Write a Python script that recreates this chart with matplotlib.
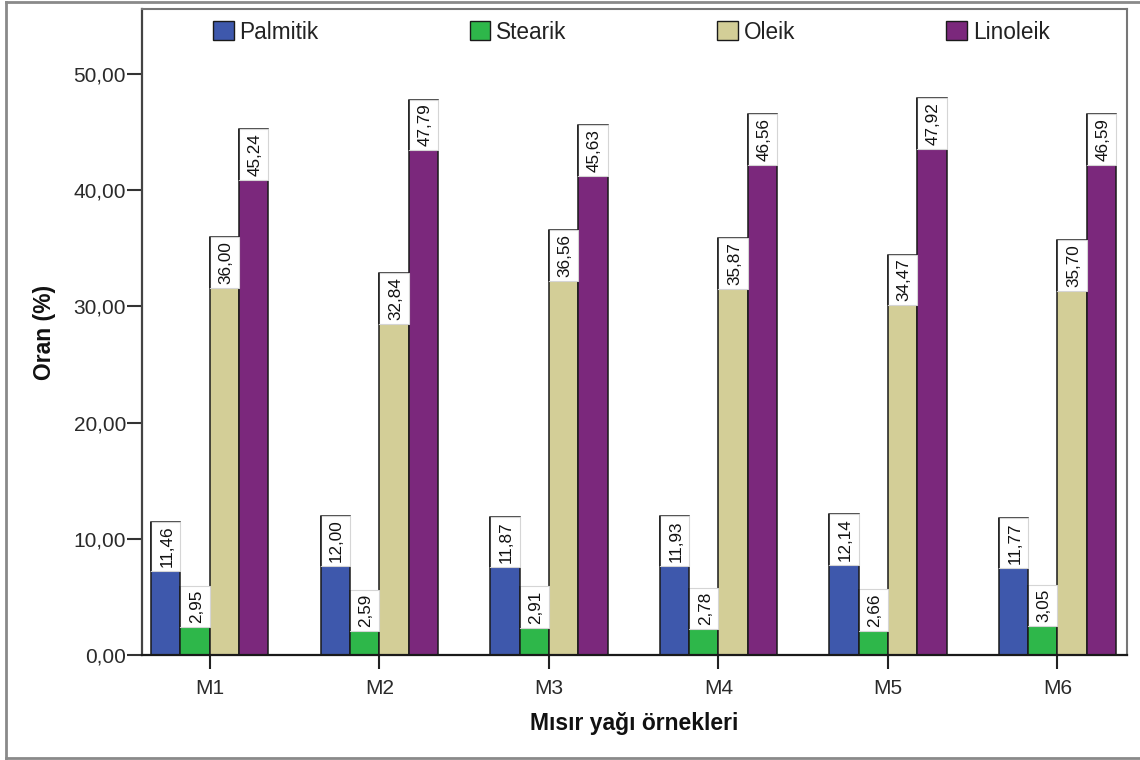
import matplotlib
matplotlib.use("Agg")
import matplotlib.pyplot as plt
from matplotlib.patches import Rectangle
from matplotlib.lines import Line2D
from matplotlib.ticker import FixedLocator, FuncFormatter
import matplotlib.transforms as mtransforms
import numpy as np

plt.rcParams['font.family'] = ['Liberation Sans', 'DejaVu Sans']

samples = ["M1", "M2", "M3", "M4", "M5", "M6"]
series = ["Palmitik", "Stearik", "Oleik", "Linoleik"]
palmitik = [11.46, 12.00, 11.87, 11.93, 12.14, 11.77]
stearik = [2.95, 2.59, 2.91, 2.78, 2.66, 3.05]
oleik = [36.00, 32.84, 36.56, 35.87, 34.47, 35.70]
linoleik = [45.24, 47.79, 45.63, 46.56, 47.92, 46.59]
colors = ["#3E58AC", "#2EB74A", "#D3CE97", "#7B287C"]

values = [palmitik, stearik, oleik, linoleik]

W, H = 1140, 760
fig = plt.figure(figsize=(W / 100, H / 100), dpi=100)
ax = fig.add_axes([142 / W, 1 - 655 / H, (1127 - 142) / W, (655 - 9) / H])

x = np.arange(len(samples))
bw = 0.173
offsets = [-1.5, -0.5, 0.5, 1.5]

bars_all = []
for vals, col, off, name in zip(values, colors, offsets, series):
    bars = ax.bar(x + off * bw, vals, width=bw, color=col, edgecolor="#1a1a1a",
                  linewidth=1.1, label=name, zorder=2)
    bars_all.append((bars, vals))

ax.set_xlim(-0.4, len(samples) - 1 + 0.41)
ax.set_ylim(0, 55.6)

ax.yaxis.set_major_locator(FixedLocator([0, 10, 20, 30, 40, 50]))
ax.yaxis.set_major_formatter(FuncFormatter(lambda v, p: f"{v:.2f}".replace(".", ",")))
ax.set_xticks(x)
ax.set_xticklabels(samples)
ax.tick_params(axis="y", direction="out", length=10.5, width=1.5, color="#333",
               labelsize=15, labelcolor="#2a2a2a", pad=1)
ax.tick_params(axis="x", direction="out", length=10, width=1.5, color="#222",
               labelsize=15, labelcolor="#2a2a2a", pad=7)

for side in ["top", "right"]:
    ax.spines[side].set_color("#777777")
    ax.spines[side].set_linewidth(1.5)
ax.spines["left"].set_color("#444444")
ax.spines["left"].set_linewidth(1.6)
ax.spines["bottom"].set_color("#1a1a1a")
ax.spines["bottom"].set_linewidth(1.6)

ax.set_ylabel("Oran (%)", fontsize=16.5, fontweight="bold", color="#111")
ax.yaxis.set_label_coords(-86 / 985, 0.5)
ax.set_xlabel("Mısır yağı örnekleri", fontsize=16.5, fontweight="bold", color="#111")
ax.xaxis.set_label_coords(0.5, -57 / 646)

leg = ax.legend(ncol=4, loc="upper left", bbox_to_anchor=(0.072, 0.982),
                frameon=False, fontsize=16.3, handlelength=0.92, handleheight=0.92,
                handletextpad=0.25, columnspacing=6.67, borderpad=0, borderaxespad=0)
for h in leg.legend_handles:
    h.set_edgecolor("#1a1a1a")
    h.set_linewidth(1.0)
for t in leg.get_texts():
    t.set_color("#222")

# value labels: white boxes at the top of each bar, or resting on short bars
fig.canvas.draw()
renderer = fig.canvas.get_renderer()
px_per_unit = ax.transData.transform((0, 1))[1] - ax.transData.transform((0, 0))[1]
pad_px = 4.0
overlap_px = 6.5
for bars, vals in bars_all:
    for rect, v in zip(bars, vals):
        label = f"{v:.2f}".replace(".", ",")
        cx = rect.get_x() + rect.get_width() / 2
        txt = ax.text(cx, v, label, rotation=90, ha="center", va="top",
                      fontsize=12.3, color="#111", zorder=5)
        ext = txt.get_window_extent(renderer=renderer)
        h = (ext.height + 2 * pad_px) / px_per_unit
        if h < v:
            top = v
        else:
            top = v - overlap_px / px_per_unit + h
        txt.set_y(top)
        txt.set_transform(mtransforms.offset_copy(ax.transData, fig=fig, x=1.0,
                                                  y=-pad_px * 72 / 100, units="points"))
        ax.add_patch(Rectangle((rect.get_x(), top - h), rect.get_width(), h,
                               facecolor="white", edgecolor="#d5d5d5", linewidth=0.8,
                               zorder=3))
        ax.plot([rect.get_x(), rect.get_x()], [top - h, top], color="#1a1a1a",
                linewidth=1.1, zorder=4, solid_capstyle="butt")

# outer frame of the figure
frame_kw = dict(transform=fig.transFigure, color="#8a8a8a", linewidth=2.0)
fig.add_artist(Line2D([5.5 / W, 5.5 / W], [1 - 2.0 / H, 1 - 758 / H], **frame_kw))
fig.add_artist(Line2D([5.5 / W, 1.0], [1 - 2.0 / H, 1 - 2.0 / H], **frame_kw))
fig.add_artist(Line2D([5.5 / W, 1.0], [1 - 758 / H, 1 - 758 / H], **frame_kw))

fig.savefig("out.png", dpi=100)
